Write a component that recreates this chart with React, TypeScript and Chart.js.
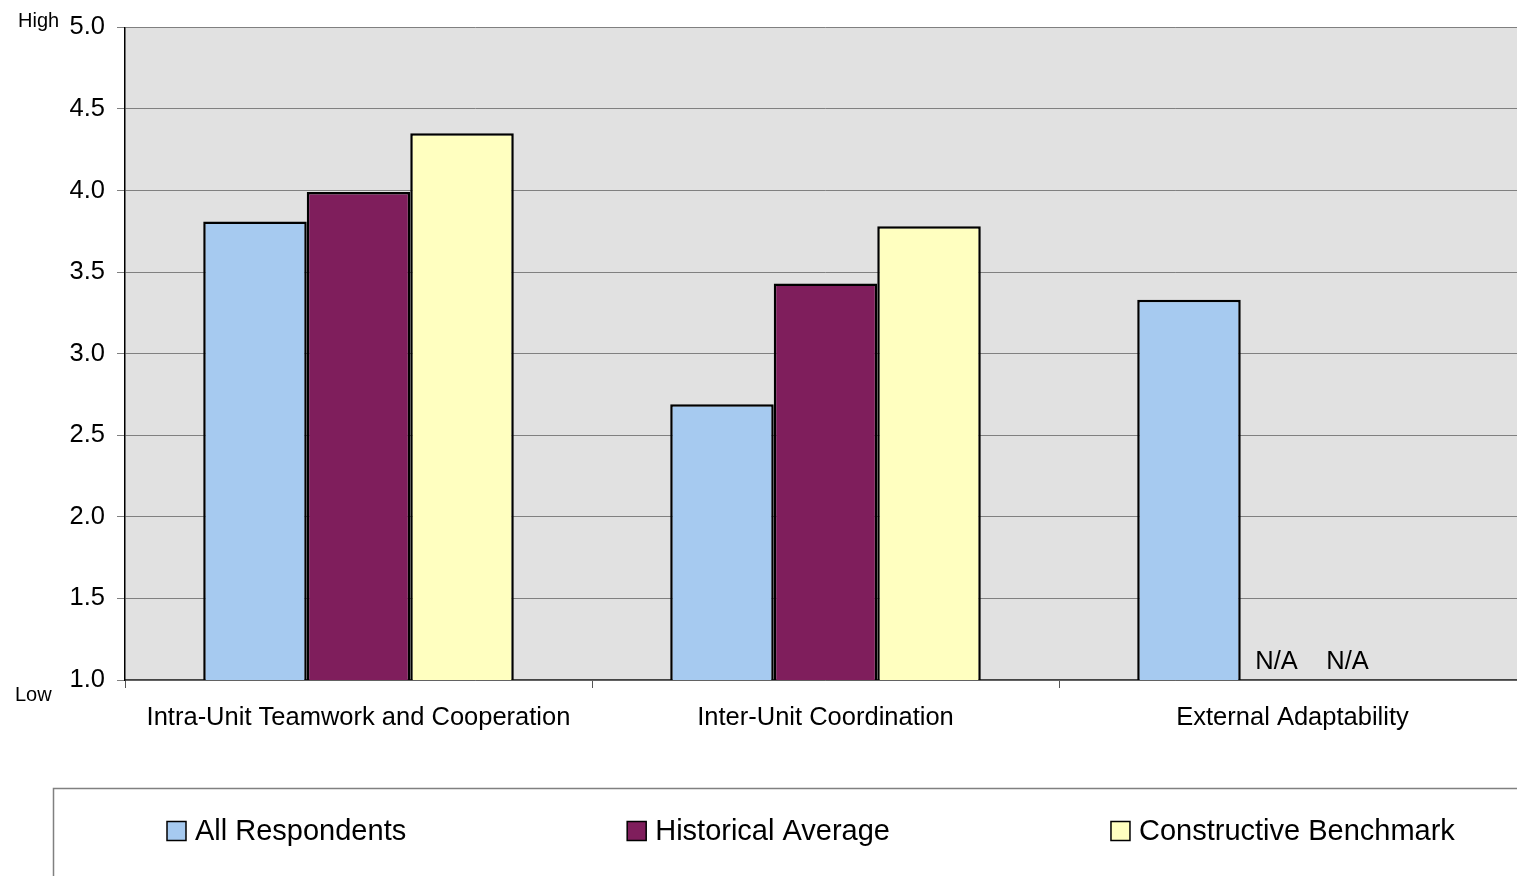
import React, { useEffect, useRef } from "react";
import { Chart, registerables } from "chart.js";

Chart.register(...registerables);

const categories = ["Intra-Unit Teamwork and Cooperation", "Inter-Unit Coordination", "External Adaptability"];
const seriesNames = ["All Respondents", "Historical Average", "Constructive Benchmark"];
const allRespondents = [3.81, 2.69, 3.33];
const historicalAverage = [3.99, 3.43, null];
const constructiveBenchmark = [4.35, 3.78, null];
const yTicks = [1.0, 1.5, 2.0, 2.5, 3.0, 3.5, 4.0, 4.5, 5.0];
const colors = ["#a6caf0", "#7f1e5c", "#ffffc0"];

const FONT = "'Liberation Sans', Arial, sans-serif";

export default function App() {
  const ref = useRef<HTMLCanvasElement | null>(null);
  useEffect(() => {
    if (!ref.current) return;
    const bgPlugin = {
      id: "bg",
      beforeDraw(chart: any) {
        const { ctx, chartArea } = chart;
        ctx.save();
        ctx.fillStyle = "#e1e1e1";
        ctx.fillRect(chartArea.left, chartArea.top, chartArea.right - chartArea.left, chartArea.bottom - chartArea.top);
        ctx.restore();
      },
      afterDraw(chart: any) {
        const { ctx } = chart;
        const x = chart.scales.x;
        const y = chart.scales.y;
        ctx.save();
        // High / Low
        ctx.fillStyle = "#000";
        ctx.font = `20px ${FONT}`;
        ctx.textBaseline = "middle";
        ctx.textAlign = "left";
        ctx.fillText("High", 18, y.getPixelForValue(5) - 6);
        ctx.fillText("Low", 15, y.getPixelForValue(1) + 15);
        // N/A labels
        ctx.font = `25.5px ${FONT}`;
        ctx.textAlign = "center";
        ctx.textBaseline = "alphabetic";
        const cx = x.getPixelForValue(2);
        const base = y.getPixelForValue(1) - 11;
        ctx.fillText("N/A", cx - 16, base);
        ctx.fillText("N/A", cx + 55, base);
        // Legend box
        const boxLeft = 53.5;
        const boxTop = 788.5;
        ctx.strokeStyle = "#808080";
        ctx.lineWidth = 1.5;
        ctx.beginPath();
        ctx.moveTo(chart.width + 5, boxTop);
        ctx.lineTo(boxLeft, boxTop);
        ctx.lineTo(boxLeft, chart.height + 5);
        ctx.stroke();
        ctx.font = `29px ${FONT}`;
        ctx.textAlign = "left";
        ctx.textBaseline = "middle";
        let lx = 167;
        const ly = 831;
        seriesNames.forEach((name, i) => {
          ctx.fillStyle = colors[i];
          ctx.fillRect(lx, ly - 9.5, 19, 19);
          ctx.strokeStyle = "#000";
          ctx.lineWidth = 1.5;
          ctx.strokeRect(lx, ly - 9.5, 19, 19);
          ctx.fillStyle = "#000";
          ctx.fillText(name, lx + 28, ly + 1);
          lx += 28 + ctx.measureText(name).width + 221;
        });
        ctx.restore();
      },
    };
    const chart = new Chart(ref.current, {
      type: "bar",
      data: {
        labels: categories,
        datasets: [allRespondents, historicalAverage, constructiveBenchmark].map((d, i) => ({
          label: seriesNames[i],
          data: d as any,
          backgroundColor: colors[i],
          borderColor: "#000",
          borderWidth: 2.5,
          borderSkipped: "bottom",
          barPercentage: 1,
          categoryPercentage: 0.665,
        })),
      },
      options: {
        responsive: false,
        animation: false,
        maintainAspectRatio: false,
        layout: { padding: { top: 26, right: 0, left: 0, bottom: 0 } },
        plugins: { legend: { display: false }, tooltip: { enabled: false } },
        scales: {
          x: {
            grid: { drawOnChartArea: false, drawTicks: true, tickLength: 8, color: "#555", offset: true },
            border: { color: "#444", width: 1.5 },
            ticks: { color: "#000", font: { family: FONT, size: 25.5 }, padding: 15, maxRotation: 0 },
            afterFit(scale: any) {
              scale.height = 196;
            },
          },
          y: {
            min: 1,
            max: 5,
            afterBuildTicks(scale: any) {
              scale.ticks = yTicks.map((v) => ({ value: v }));
            },
            grid: { color: "#808080", lineWidth: 1, tickLength: 8, drawTicks: true },
            border: { color: "#000", width: 1.5 },
            ticks: {
              color: "#000",
              font: { family: FONT, size: 25.5 },
              padding: 12,
              callback: (v: any) => Number(v).toFixed(1),
            },
            afterFit(scale: any) {
              scale.width = 125;
            },
          },
        },
      },
      plugins: [bgPlugin],
    });
    return () => chart.destroy();
  }, []);
  return (
    <canvas
      ref={ref}
      width={1526}
      height={876}
      style={{ position: "fixed", left: 0, top: 0, width: 1526, height: 876 }}
    />
  );
}
